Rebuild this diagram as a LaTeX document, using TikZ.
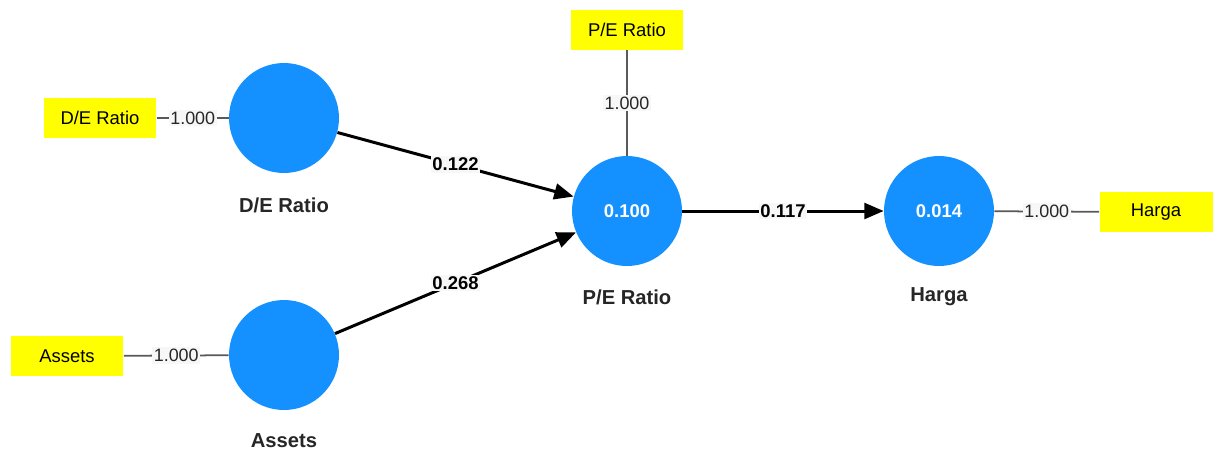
\documentclass[tikz,border=0pt]{standalone}
\usepackage{fontspec}
\setmainfont{Liberation Sans}
\usetikzlibrary{arrows.meta}
\definecolor{lvblue}{RGB}{20,145,255}
\definecolor{indyellow}{RGB}{255,255,0}
\tikzset{
    lv/.style={circle, fill=lvblue, minimum size=2.2cm, inner sep=0pt,
        text=white, font=\fontsize{10.5}{12}\selectfont\bfseries},
    ind/.style={fill=indyellow, minimum width=2.26cm, minimum height=0.8cm,
        inner sep=0pt, font=\fontsize{10.5}{12}\selectfont},
    lvname/.style={font=\fontsize{11.5}{13}\selectfont\bfseries, text=black!85},
    loading/.style={draw=black!65, line width=1pt},
    wt/.style={fill=black!3, inner sep=1pt, font=\fontsize{10.2}{12}\selectfont, text=black!85},
    struct/.style={-{Triangle[length=11pt,width=9pt]}, line width=1.7pt},
    pw/.style={fill=black!3, inner sep=1pt, font=\fontsize{10.5}{12}\selectfont\bfseries},
}
\begin{document}
\begin{tikzpicture}[x=0.02cm, y=-0.02cm]
\useasboundingbox (0,0) rectangle (1213,451);
\node[lv] (de) at (284,118) {};
\node[lv] (as) at (284,355) {};
\node[lv] (pe) at (627,211) {0.100};
\node[lv] (hg) at (939,211) {0.014};
\node[lvname] (deN) at (284,205) {D/E Ratio};
\node[lvname] (asN) at (284,441) {Assets};
\node[lvname] (peN) at (627,297) {P/E Ratio};
\node[lvname] (hgN) at (939,297) {Harga};
\node[ind] (deI) at (100,118) {D/E Ratio};
\node[ind] (asI) at (67,356) {Assets};
\node[ind] (peI) at (627,30) {P/E Ratio};
\node[ind] (hgI) at (1156,212) {Harga};
\draw[loading] (deI) -- node[wt] {1.000} (de);
\draw[loading] (asI) -- node[wt] {1.000} (as);
\draw[loading] (peI) -- node[wt] {1.000} (pe);
\draw[loading] (hg) -- node[wt] {1.000} (hgI);
\draw[struct] (de) -- node[pw] {0.122} (pe);
\draw[struct] (as) -- node[pw] {0.268} (pe);
\draw[struct] (pe) -- node[pw] {0.117} (hg);
\end{tikzpicture}
\end{document}
